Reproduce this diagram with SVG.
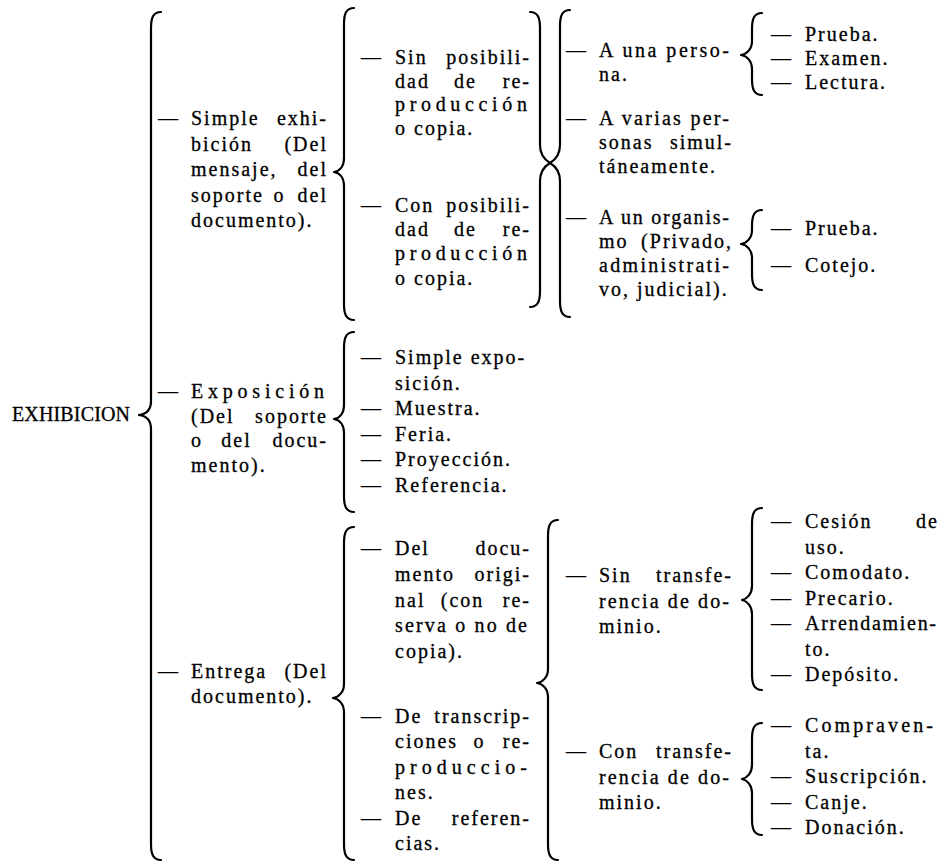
<svg xmlns="http://www.w3.org/2000/svg" width="946" height="864" viewBox="0 0 946 864">
<style>
.t{font-family:"Liberation Serif","Times New Roman",serif;font-size:20px;letter-spacing:2px;fill:#000;stroke:#000;stroke-width:0.3px}
.e{text-anchor:end}
.m{text-anchor:middle}
.br{fill:none;stroke:#000;stroke-width:2.2;stroke-linecap:round;stroke-linejoin:round}
</style>
<rect width="946" height="864" fill="#fff"/>
<g id="connectors">
<path class="br" d="M161,12 C153,12 151,18 151,28 L151,401 C151,409 147,414 139,415 C147,416 151,421 151,429 L151,844 C151,854 153,860 161,860"/>
<path class="br" d="M354,8 C346,8 344,14 344,24 L344,158 C344,166 340,171 334,172 C340,173 344,178 344,186 L344,304 C344,314 346,320 354,320"/>
<path class="br" d="M354,332 C346,332 344,338 344,348 L344,405 C344,413 340,418 334,419 C340,420 344,425 344,433 L344,496 C344,506 346,512 354,512"/>
<path class="br" d="M354,527 C346,527 344,533 344,543 L344,684 C344,692 339,697 333,698 C339,699 344,704 344,712 L344,844 C344,854 346,860 354,860"/>
<path class="br" d="M530,12 C538,12 540,18 540,28 L540,145 C540,155 545,160 550,163 C545,166 540,171 540,181 L540,291 C540,301 538,307 530,307"/>
<path class="br" d="M570,10 C562,10 560,16 560,26 L560,145 C560,155 555,160 550,163 C555,166 560,171 560,181 L560,301 C560,311 562,317 570,317"/>
<path class="br" d="M762,13 C754,13 752,19 752,29 L752,41 C752,49 747,54 741,55 C747,56 752,61 752,69 L752,79 C752,89 754,95 762,95"/>
<path class="br" d="M762,210 C754,210 752,216 752,226 L752,230 C752,238 747,243 741,244 C747,245 752,250 752,258 L752,274 C752,284 754,290 762,290"/>
<path class="br" d="M558,520 C550,520 548,526 548,536 L548,669 C548,677 543,682 537,683 C543,684 548,689 548,697 L548,844 C548,854 550,860 558,860"/>
<path class="br" d="M762,508 C754,508 752,514 752,524 L752,586 C752,594 747,599 742,600 C747,601 752,606 752,614 L752,674 C752,684 754,690 762,690"/>
<path class="br" d="M762,723 C754,723 752,729 752,739 L752,765 C752,773 747,778 742,779 C747,780 752,785 752,793 L752,819 C752,829 754,835 762,835"/>
</g>
<g id="n-exhibicion"><text class="t" x="12" y="421" textLength="120" lengthAdjust="spacing">EXHIBICION</text></g>
<g id="n-simple-exhibicion">
<text class="t" y="125"><tspan x="158">— </tspan><tspan x="191">Simple </tspan><tspan x="328" class="e">exhi-</tspan></text>
<text class="t" y="150.5"><tspan x="191">bición </tspan><tspan x="328" class="e">(Del</tspan></text>
<text class="t" y="176"><tspan x="191">mensaje, </tspan><tspan x="328" class="e">del</tspan></text>
<text class="t" y="201.5"><tspan x="191">soporte </tspan><tspan x="283" class="m">o </tspan><tspan x="328" class="e">del</tspan></text>
<text class="t" y="227" x="191">documento).</text>
</g>
<g id="n-exposicion">
<text class="t" y="398"><tspan x="158">— </tspan><tspan x="191" textLength="135" lengthAdjust="spacing">Exposición</tspan></text>
<text class="t" y="422.5"><tspan x="191">(Del </tspan><tspan x="328" class="e">soporte</tspan></text>
<text class="t" y="447"><tspan x="191">o </tspan><tspan x="240" class="m">del </tspan><tspan x="328" class="e">docu-</tspan></text>
<text class="t" y="471.5" x="191">mento).</text>
</g>
<g id="n-entrega">
<text class="t" y="678"><tspan x="158">— </tspan><tspan x="191">Entrega </tspan><tspan x="328" class="e">(Del</tspan></text>
<text class="t" y="703" x="191">documento).</text>
</g>
<g id="n-sin-posibilidad">
<text class="t" y="64"><tspan x="361">— </tspan><tspan x="395">Sin </tspan><tspan x="531" class="e">posibili-</tspan></text>
<text class="t" y="87.5"><tspan x="395">dad </tspan><tspan x="469" class="m">de </tspan><tspan x="531" class="e">re-</tspan></text>
<text class="t" y="111" x="395" textLength="134" lengthAdjust="spacing">producción</text>
<text class="t" y="134.5" x="395">o copia.</text>
</g>
<g id="n-con-posibilidad">
<text class="t" y="212"><tspan x="361">— </tspan><tspan x="395">Con </tspan><tspan x="531" class="e">posibili-</tspan></text>
<text class="t" y="236"><tspan x="395">dad </tspan><tspan x="469" class="m">de </tspan><tspan x="531" class="e">re-</tspan></text>
<text class="t" y="260" x="395" textLength="134" lengthAdjust="spacing">producción</text>
<text class="t" y="284.5" x="395">o copia.</text>
</g>
<g id="n-a-una-persona">
<text class="t" y="57"><tspan x="566">— </tspan><tspan x="599" textLength="132" lengthAdjust="spacing">A una perso-</tspan></text>
<text class="t" y="81" x="599">na.</text>
</g>
<g id="n-a-varias-personas">
<text class="t" y="125"><tspan x="566">— </tspan><tspan x="599" textLength="132" lengthAdjust="spacing">A varias per-</tspan></text>
<text class="t" y="149"><tspan x="599">sonas </tspan><tspan x="733" class="e">simul-</tspan></text>
<text class="t" y="173" x="599">táneamente.</text>
</g>
<g id="n-a-un-organismo">
<text class="t" y="224"><tspan x="566">— </tspan><tspan x="599" textLength="132" lengthAdjust="spacing">A un organis-</tspan></text>
<text class="t" y="248"><tspan x="599">mo </tspan><tspan x="733" class="e">(Privado,</tspan></text>
<text class="t" y="272" x="599" textLength="132" lengthAdjust="spacing">administrati-</text>
<text class="t" y="296" x="599">vo, judicial).</text>
</g>
<g id="n-prueba-1"><text class="t" y="41"><tspan x="771">— </tspan><tspan x="805">Prueba.</tspan></text></g>
<g id="n-examen"><text class="t" y="65"><tspan x="771">— </tspan><tspan x="805">Examen.</tspan></text></g>
<g id="n-lectura"><text class="t" y="89"><tspan x="771">— </tspan><tspan x="805">Lectura.</tspan></text></g>
<g id="n-prueba-2"><text class="t" y="235"><tspan x="771">— </tspan><tspan x="805">Prueba.</tspan></text></g>
<g id="n-cotejo"><text class="t" y="272"><tspan x="771">— </tspan><tspan x="805">Cotejo.</tspan></text></g>
<g id="n-simple-exposicion">
<text class="t" y="364"><tspan x="361">— </tspan><tspan x="395">Simple expo-</tspan></text>
<text class="t" y="389.5" x="395">sición.</text>
</g>
<g id="n-muestra"><text class="t" y="415"><tspan x="361">— </tspan><tspan x="395">Muestra.</tspan></text></g>
<g id="n-feria"><text class="t" y="440.5"><tspan x="361">— </tspan><tspan x="395">Feria.</tspan></text></g>
<g id="n-proyeccion"><text class="t" y="466"><tspan x="361">— </tspan><tspan x="395">Proyección.</tspan></text></g>
<g id="n-referencia"><text class="t" y="491.5"><tspan x="361">— </tspan><tspan x="395">Referencia.</tspan></text></g>
<g id="n-del-documento-original">
<text class="t" y="555"><tspan x="361">— </tspan><tspan x="395">Del </tspan><tspan x="531" class="e">docu-</tspan></text>
<text class="t" y="581"><tspan x="395">mento </tspan><tspan x="531" class="e">origi-</tspan></text>
<text class="t" y="606.5"><tspan x="395">nal </tspan><tspan x="466" class="m">(con </tspan><tspan x="531" class="e">re-</tspan></text>
<text class="t" y="632" x="395" textLength="134" lengthAdjust="spacing">serva o no de</text>
<text class="t" y="657.5" x="395">copia).</text>
</g>
<g id="n-de-transcripciones">
<text class="t" y="722.5"><tspan x="361">— </tspan><tspan x="395">De </tspan><tspan x="531" class="e">transcrip-</tspan></text>
<text class="t" y="748"><tspan x="395">ciones </tspan><tspan x="483" class="m">o </tspan><tspan x="531" class="e">re-</tspan></text>
<text class="t" y="773.5" x="395" textLength="134" lengthAdjust="spacing">produccio-</text>
<text class="t" y="799" x="395">nes.</text>
</g>
<g id="n-de-referencias">
<text class="t" y="824.5"><tspan x="361">— </tspan><tspan x="395">De </tspan><tspan x="531" class="e">referen-</tspan></text>
<text class="t" y="850" x="395">cias.</text>
</g>
<g id="n-sin-transferencia">
<text class="t" y="582"><tspan x="566">— </tspan><tspan x="599">Sin </tspan><tspan x="733" class="e">transfe-</tspan></text>
<text class="t" y="607.5" x="599" textLength="132" lengthAdjust="spacing">rencia de do-</text>
<text class="t" y="633" x="599">minio.</text>
</g>
<g id="n-con-transferencia">
<text class="t" y="758"><tspan x="566">— </tspan><tspan x="599">Con </tspan><tspan x="733" class="e">transfe-</tspan></text>
<text class="t" y="783.5" x="599" textLength="132" lengthAdjust="spacing">rencia de do-</text>
<text class="t" y="809" x="599">minio.</text>
</g>
<g id="n-cesion-de-uso">
<text class="t" y="528"><tspan x="771">— </tspan><tspan x="805">Cesión </tspan><tspan x="939" class="e">de</tspan></text>
<text class="t" y="553.5" x="805">uso.</text>
</g>
<g id="n-comodato"><text class="t" y="579"><tspan x="771">— </tspan><tspan x="805">Comodato.</tspan></text></g>
<g id="n-precario"><text class="t" y="604.5"><tspan x="771">— </tspan><tspan x="805">Precario.</tspan></text></g>
<g id="n-arrendamiento">
<text class="t" y="630"><tspan x="771">— </tspan><tspan x="805" textLength="133" lengthAdjust="spacing">Arrendamien-</tspan></text>
<text class="t" y="655.5" x="805">to.</text>
</g>
<g id="n-deposito"><text class="t" y="681"><tspan x="771">— </tspan><tspan x="805">Depósito.</tspan></text></g>
<g id="n-compraventa">
<text class="t" y="732"><tspan x="771">— </tspan><tspan x="805" textLength="130" lengthAdjust="spacing">Compraven-</tspan></text>
<text class="t" y="757.5" x="805">ta.</text>
</g>
<g id="n-suscripcion"><text class="t" y="783"><tspan x="771">— </tspan><tspan x="805">Suscripción.</tspan></text></g>
<g id="n-canje"><text class="t" y="808.5"><tspan x="771">— </tspan><tspan x="805">Canje.</tspan></text></g>
<g id="n-donacion"><text class="t" y="834"><tspan x="771">— </tspan><tspan x="805">Donación.</tspan></text></g>
</svg>
